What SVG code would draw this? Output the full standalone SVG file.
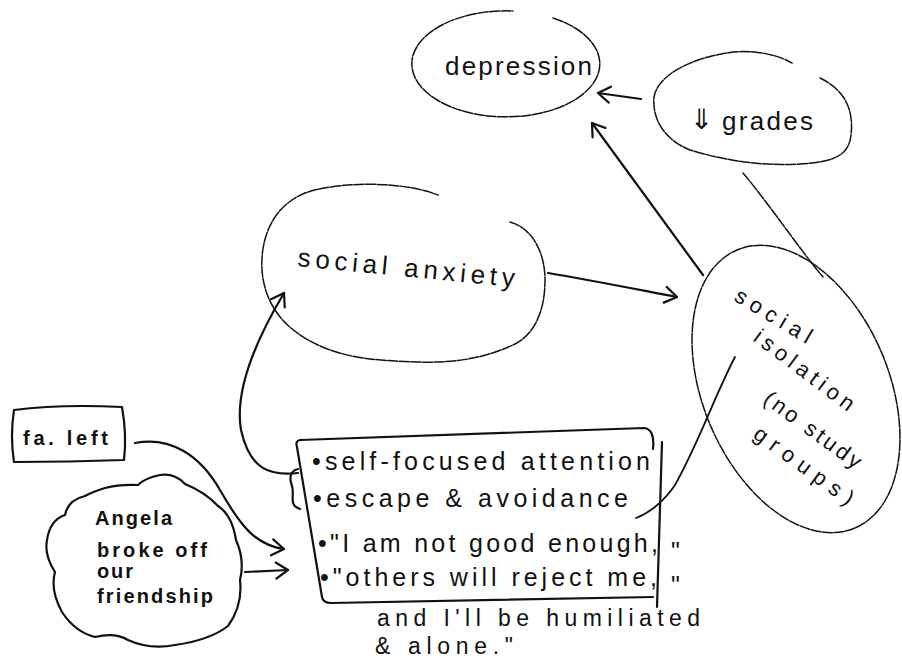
<svg xmlns="http://www.w3.org/2000/svg" width="902" height="671" viewBox="0 0 902 671">
<style>
  .ink { fill: none; stroke: #111; stroke-width: 2.2; stroke-linecap: round; stroke-linejoin: round; }
  .thin { fill: none; stroke: #111; stroke-width: 1.5; stroke-linecap: round; stroke-dasharray: 10 1.6; }
  .t { font-family: "Liberation Sans", "DejaVu Sans", sans-serif; fill: #111; }
  .big { font-size: 26px; }
  .box { font-size: 25px; }
  .box2 { font-size: 23px; }
  .sm { font-size: 20px; font-weight: bold; }
  .iso { font-size: 22px; }
</style>
<defs>
  <marker id="ah" viewBox="-15 -11 18 22" refX="0" refY="0" markerWidth="18" markerHeight="22" orient="auto" markerUnits="userSpaceOnUse">
    <path d="M -12,-8 L 0,0 L -12,8" fill="none" stroke="#111" stroke-width="2.2" stroke-linecap="round" stroke-linejoin="round"/>
  </marker>
</defs>
<rect width="902" height="671" fill="#fff"/>

<g id="depression">
  <path class="thin" d="M 553,18 A 94 53 0 1 1 513,11"/>
  <text class="t big" x="445" y="75" textLength="147" lengthAdjust="spacing">depression</text>
</g>

<g id="grades">
  <path class="thin" d="M 820,78 C 845,90 854,110 851,135 C 849,155 835,162 800,164 C 765,166 730,162 690,150 C 665,140 652,120 654,97 C 658,75 690,58 733,52 C 760,50 780,56 792,63"/>
  <text class="t" style="font-size:28px" x="690" y="129">⇓</text>
  <text class="t big" x="722" y="130" textLength="91" lengthAdjust="spacing">grades</text>
</g>

<g id="social-anxiety">
  <path class="thin" d="M 510,222 C 532,228 545,252 545,280 C 545,310 535,335 513,345 C 480,360 450,363 417,362 C 380,361 345,358 318,345 C 290,332 265,310 262,270 C 260,235 275,205 305,193 C 335,182 400,180 438,195"/>
  <text class="t big" x="297" y="266" textLength="218" lengthAdjust="spacing" transform="rotate(5.5 297 266)">social anxiety</text>
</g>

<g id="social-isolation">
  <ellipse class="thin" cx="796" cy="389" rx="151" ry="93" transform="rotate(67 796 389)"/>
  <text class="t iso" transform="translate(733 300) rotate(31)" textLength="86" lengthAdjust="spacing">social</text>
  <text class="t iso" transform="translate(752 340) rotate(37)" textLength="120" lengthAdjust="spacing">isolation</text>
  <text class="t iso" transform="translate(762 402) rotate(36)" textLength="115" lengthAdjust="spacing">(no study</text>
  <text class="t iso" transform="translate(752 437) rotate(36)" textLength="118" lengthAdjust="spacing">groups)</text>
</g>

<g id="fa-left">
  <path class="ink" d="M 14,410 Q 60,404 122,407 Q 127,435 124,460 Q 70,462 14,462 Q 10,436 14,410 Z"/>
  <text class="t sm" x="23" y="445" textLength="85" lengthAdjust="spacing">fa. left</text>
</g>

<g id="angela">
  <path class="ink" d="M 85,496 Q 68,500 65,515 Q 50,520 47,540 Q 44,555 55,572 Q 50,590 62,612 Q 75,632 95,637 Q 115,632 128,640 Q 150,650 175,645 Q 210,640 228,626 Q 243,605 240,580 Q 245,560 236,540 Q 232,515 218,506 Q 205,492 185,484 Q 175,473 160,475 Q 145,478 138,485 Q 120,484 105,488 Q 92,492 85,496 Z"/>
  <text class="t sm" x="95" y="525" textLength="77" lengthAdjust="spacing">Angela</text>
  <text class="t sm" x="97" y="557" textLength="110" lengthAdjust="spacing">broke off</text>
  <text class="t sm" x="97" y="578" textLength="36" lengthAdjust="spacing">our</text>
  <text class="t sm" x="97" y="603" textLength="116" lengthAdjust="spacing">friendship</text>
</g>

<g id="beliefs">
  <path class="ink" d="M 653,449 Q 655,429 644,428 L 300,440 Q 295,441 297,447 L 322,597 Q 323,603 331,603 L 653,597"/>
  <path class="ink" d="M 662,442 L 657,607"/>
  <path class="ink" d="M 298,469 C 290,471 289,478 292,486 C 295,496 288,505 300,509"/>
  <text class="t box" x="312" y="470" textLength="338" lengthAdjust="spacing">•self-focused attention</text>
  <text class="t box" x="313" y="507" textLength="315" lengthAdjust="spacing">•escape &amp; avoidance</text>
  <text class="t box" x="318" y="552" textLength="340" lengthAdjust="spacing">•"I am not good enough,</text>
  <text class="t box" x="671" y="560">"</text>
  <text class="t box" x="320" y="586" textLength="337" lengthAdjust="spacing">•"others will reject me,</text>
  <text class="t box" x="671" y="594">"</text>
  <text class="t box2" x="377" y="626" textLength="323" lengthAdjust="spacing">and I'll be humiliated</text>
  <text class="t box2" x="375" y="654" textLength="138" lengthAdjust="spacing">&amp; alone."</text>
</g>

<g id="connectors">
  <path class="ink" d="M 641,99 L 598,93" marker-end="url(#ah)"/>
  <path class="ink" d="M 703,275 L 592,123" marker-end="url(#ah)"/>
  <path class="ink" d="M 548,273 C 590,280 640,290 677,297" marker-end="url(#ah)"/>
  <path class="ink" d="M 298,473 C 270,476 250,470 241,430 C 235,395 250,350 284,293" marker-end="url(#ah)"/>
  <path class="ink" d="M 135,443 C 170,436 200,455 220,490 C 240,525 255,545 284,549" marker-end="url(#ah)"/>
  <path class="ink" d="M 245,572 L 288,570" marker-end="url(#ah)"/>
  <path class="thin" d="M 743,173 C 770,205 800,250 823,277"/>
  <path class="ink" style="stroke-width:1.8" d="M 735,357 C 715,395 700,440 675,485 C 665,500 650,513 636,518"/>
</g>
</svg>
